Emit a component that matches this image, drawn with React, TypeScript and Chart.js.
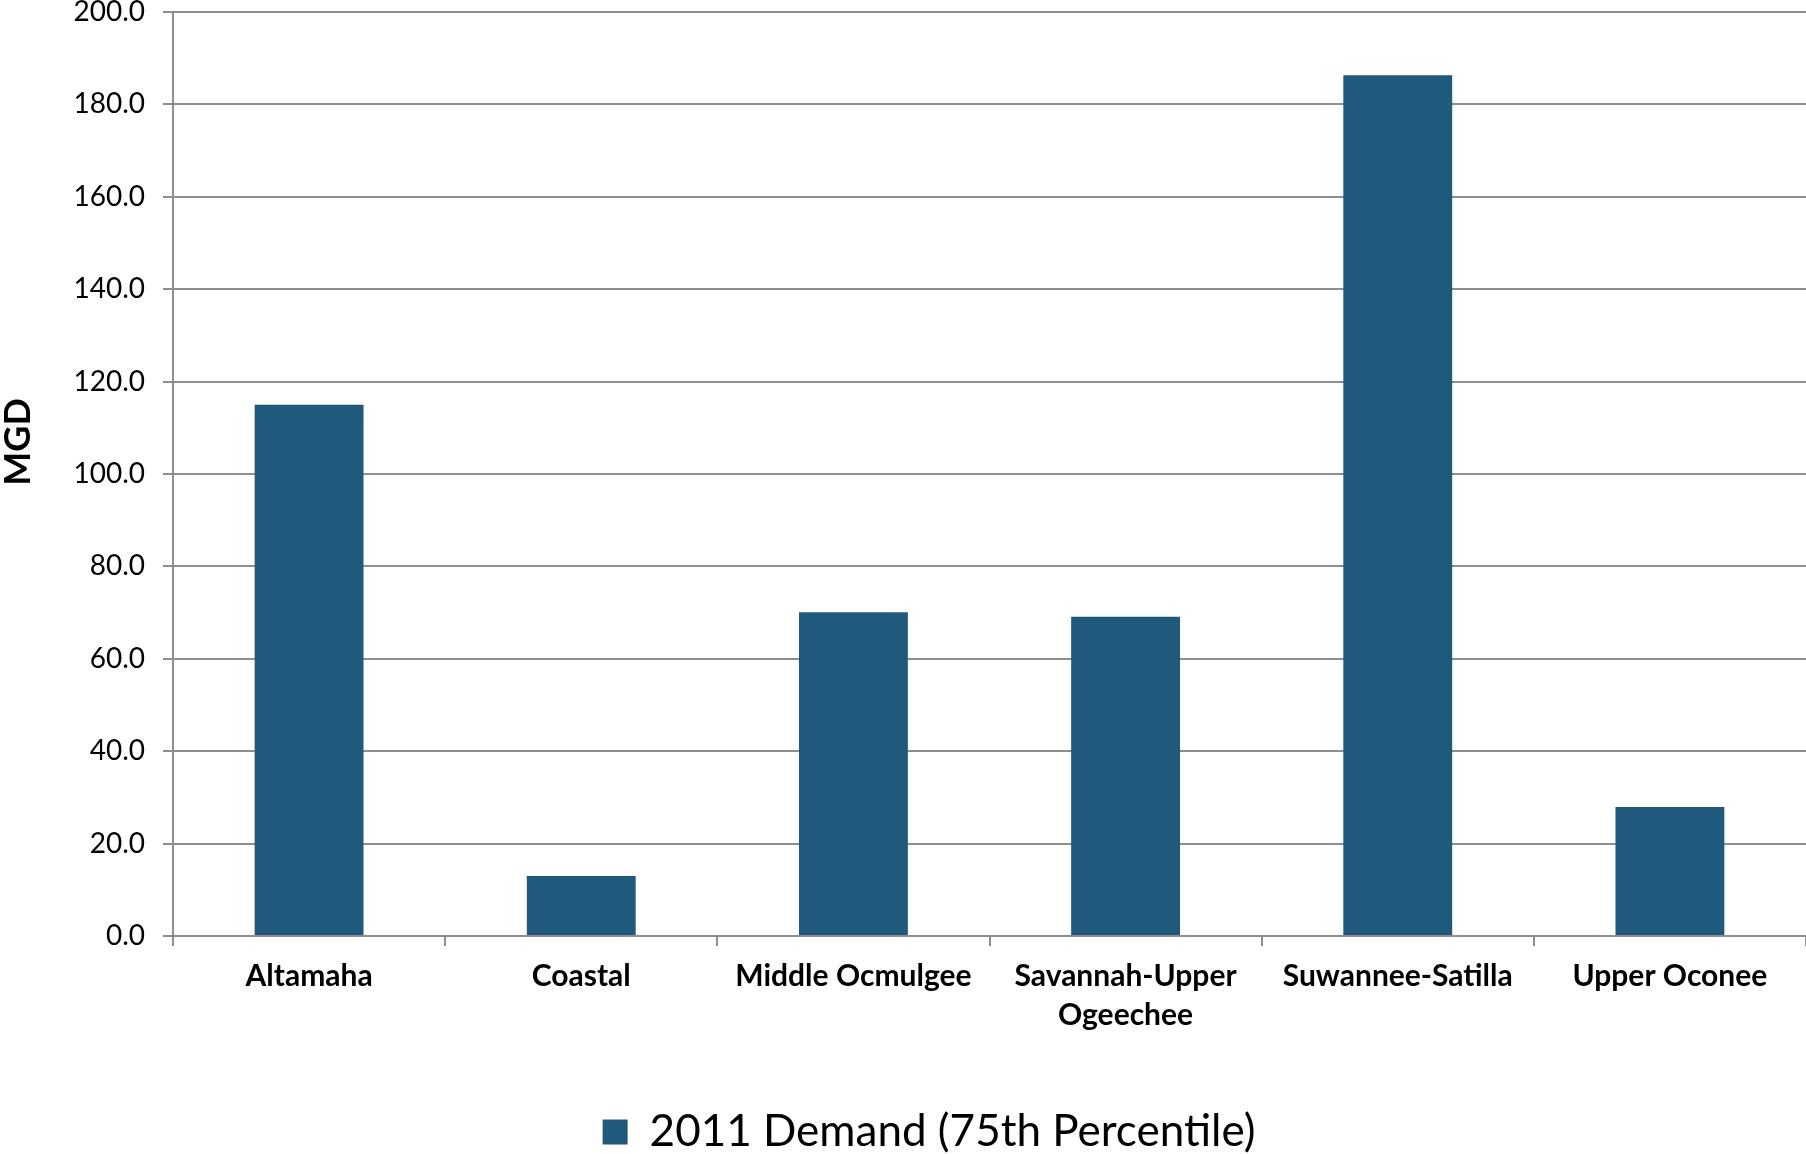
import React, { useEffect, useRef } from "react";
import { Chart, registerables } from "chart.js";

Chart.register(...registerables);

const categories: (string | string[])[] = [
  "Altamaha",
  "Coastal",
  "Middle Ocmulgee",
  ["Savannah-Upper", "Ogeechee"],
  "Suwannee-Satilla",
  "Upper Oconee",
];
const demand2011 = [115.0, 13.0, 70.1, 69.1, 186.3, 27.9];
const seriesLabel = "2011 Demand (75th Percentile)";
const yTitle = "MGD";
const yMin = 0;
const yMax = 200;
const yStep = 20;

const BAR = "#1F5A7C";
const GRID = "#8E8E8E";
const FONT = "Lato, 'Open Sans', sans-serif";

const yTitlePlugin = {
  id: "yTitlePlugin",
  afterDraw(chart: any) {
    const ctx = chart.ctx;
    ctx.save();
    ctx.translate(18, 442);
    ctx.rotate(-Math.PI / 2);
    ctx.font = `bold 36px ${FONT}`;
    ctx.fillStyle = "#000";
    ctx.textAlign = "center";
    ctx.textBaseline = "middle";
    ctx.fillText(yTitle, 0, 0);
    ctx.restore();
  },
};

export default function App() {
  const ref = useRef<HTMLCanvasElement | null>(null);

  useEffect(() => {
    document.body.style.margin = "0";
    if (!ref.current) return;
    const chart = new Chart(ref.current, {
      type: "bar",
      data: {
        labels: categories,
        datasets: [
          {
            label: seriesLabel,
            data: demand2011,
            backgroundColor: BAR,
            borderWidth: 0,
            barPercentage: 0.4,
            categoryPercentage: 1.0,
          },
        ],
      },
      plugins: [yTitlePlugin],
      options: {
        animation: false,
        responsive: false,
        devicePixelRatio: 1,
        layout: { padding: { left: 52, right: 0, top: 0, bottom: -10 } },
        plugins: {
          legend: {
            position: "bottom",
            labels: {
              color: "#000",
              font: { family: FONT, size: 44 },
              boxWidth: 25,
              boxHeight: 25,
              padding: 4,
            },
          },
          tooltip: { enabled: false },
        },
        scales: {
          x: {
            grid: {
              offset: true,
              drawOnChartArea: false,
              drawTicks: true,
              tickLength: 10,
              color: GRID,
              lineWidth: 2,
            },
            border: { display: true, color: GRID, width: 2 },
            ticks: {
              color: "#000",
              font: { family: FONT, size: 30, weight: "bold", lineHeight: 1.3 },
              padding: 11,
              maxRotation: 0,
              autoSkip: false,
            },
            afterFit: (s: any) => {
              s.height = 170;
              s.paddingLeft = 0;
              s.paddingRight = 0;
            },
          },
          y: {
            min: yMin,
            max: yMax,
            ticks: {
              stepSize: yStep,
              color: "#000",
              font: { family: FONT, size: 28 },
              padding: 18,
              callback: (v: any) => Number(v).toFixed(1),
            },
            grid: {
              color: GRID,
              lineWidth: 2,
              drawTicks: true,
              tickLength: 10,
            },
            border: { display: true, color: GRID, width: 2 },
            title: { display: false },
            afterFit: (s: any) => {
              s.width = 121;
              s.paddingTop = 12;
              s.paddingBottom = 0;
            },
          },
        },
      },
    });
    return () => chart.destroy();
  }, []);

  return (
    <div style={{ position: "fixed", left: 0, top: 0, width: 1806, height: 1154, background: "#fff" }}>
      <canvas ref={ref} width={1806} height={1154} />
    </div>
  );
}
